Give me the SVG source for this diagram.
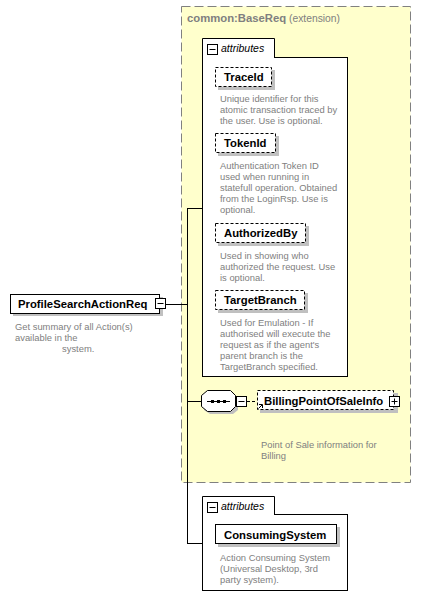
<svg xmlns="http://www.w3.org/2000/svg" width="422" height="608" viewBox="0 0 422 608">
<style>
.bold{font-family:"Liberation Sans",Arial,sans-serif;font-weight:bold;font-size:11.3px;fill:#000}
.desc{font-family:"Liberation Sans",Arial,sans-serif;font-size:9.4px;fill:#808080}
.ital{font-family:"Liberation Sans",Arial,sans-serif;font-style:italic;font-size:10.5px;fill:#000}
.shadow{fill:#c0c0c0;stroke:none}
.box{fill:#fff;stroke:#000;stroke-width:1}
.dbox{fill:#fff;stroke:#000;stroke-width:1;stroke-dasharray:3,2}
.line{stroke:#000;stroke-width:1;fill:none}
</style>
<defs>
<g id="minus"><rect x="0.5" y="0.5" width="10" height="10" fill="#fff" stroke="#000"/><line x1="2.5" y1="5.5" x2="8.5" y2="5.5" stroke="#000"/></g>
<g id="plus"><rect x="0.5" y="0.5" width="10" height="10" fill="#fff" stroke="#000"/><line x1="2.5" y1="5.5" x2="8.5" y2="5.5" stroke="#000"/><line x1="5.5" y1="2.5" x2="5.5" y2="8.5" stroke="#000"/></g>
</defs>

<g id="extension">
<rect x="181.5" y="6.5" width="229" height="476" fill="#ffffcc" stroke="#808080" stroke-dasharray="9,4"/>
<text x="187" y="22" class="bold" style="fill:#808080">common:BaseReq<tspan style="font-weight:normal;font-size:10.3px"> (extension)</tspan></text>
</g>

<g id="connectors">
<line x1="166" y1="304.5" x2="187" y2="304.5" class="line"/>
<line x1="187.5" y1="208" x2="187.5" y2="543.5" class="line"/>
<line x1="187" y1="208.5" x2="202" y2="208.5" class="line"/>
<line x1="187" y1="401.5" x2="201" y2="401.5" class="line"/>
<line x1="187" y1="543.5" x2="202" y2="543.5" class="line"/>
<line x1="247" y1="401.5" x2="257" y2="401.5" class="line" stroke-dasharray="3,2"/>
</g>

<g id="root">
<rect x="13" y="297" width="150" height="19" class="shadow"/>
<rect x="10.5" y="294.5" width="149" height="19" class="box"/>
<text x="18" y="308" class="bold">ProfileSearchActionReq</text>
<use href="#minus" x="155" y="298"/>
<text class="desc"><tspan x="15" y="330">Get summary of all Action(s)</tspan><tspan x="15" y="341">available in the</tspan><tspan x="62" y="352">system.</tspan></text>
</g>

<g id="attributes1">
<path d="M202.5 57.5 V38.5 H274.5 V57.5" class="box"/>
<rect x="202.5" y="57.5" width="145" height="319" class="box"/>
<rect x="203" y="56" width="71" height="3" fill="#fff"/>
<use href="#minus" x="207" y="44"/>
<text x="221" y="52" class="ital">attributes</text>
</g>

<g id="TraceId">
<rect x="218" y="70" width="57" height="20" class="shadow"/>
<rect x="215.5" y="67.5" width="56" height="19" class="dbox"/>
<text x="224" y="81" class="bold">TraceId</text>
<text class="desc"><tspan x="220" y="102">Unique identifier for this</tspan><tspan x="220" y="113">atomic transaction traced by</tspan><tspan x="220" y="124">the user. Use is optional.</tspan></text>
</g>

<g id="TokenId">
<rect x="218" y="136" width="61" height="20" class="shadow"/>
<rect x="215.5" y="133.5" width="60" height="19" class="dbox"/>
<text x="224" y="147" class="bold">TokenId</text>
<text class="desc"><tspan x="220" y="169">Authentication Token ID</tspan><tspan x="220" y="180">used when running in</tspan><tspan x="220" y="191">statefull operation. Obtained</tspan><tspan x="220" y="202">from the LoginRsp. Use is</tspan><tspan x="220" y="213">optional.</tspan></text>
</g>

<g id="AuthorizedBy">
<rect x="218" y="226" width="91" height="20" class="shadow"/>
<rect x="215.5" y="223.5" width="90" height="19" class="dbox"/>
<text x="224" y="237" class="bold">AuthorizedBy</text>
<text class="desc"><tspan x="220" y="259">Used in showing who</tspan><tspan x="220" y="270">authorized the request. Use</tspan><tspan x="220" y="281">is optional.</tspan></text>
</g>

<g id="TargetBranch">
<rect x="218" y="293" width="90" height="20" class="shadow"/>
<rect x="215.5" y="290.5" width="89" height="19" class="dbox"/>
<text x="224" y="304" class="bold">TargetBranch</text>
<text class="desc"><tspan x="220" y="326">Used for Emulation - If</tspan><tspan x="220" y="337">authorised will execute the</tspan><tspan x="220" y="348">request as if the agent's</tspan><tspan x="220" y="359">parent branch is the</tspan><tspan x="220" y="370">TargetBranch specified.</tspan></text>
</g>

<g id="sequence">
<polygon points="210,393 233,393 238,398 238,410 233,414 210,414 204,410 204,398" class="shadow"/>
<polygon points="207.5,390.5 230.5,390.5 235.5,395.5 235.5,406.5 230.5,411.5 207.5,411.5 201.5,406.5 201.5,395.5" class="box"/>
<line x1="207" y1="401.5" x2="230" y2="401.5" class="line"/>
<rect x="211" y="400" width="3" height="3" fill="#000"/>
<rect x="217" y="400" width="3" height="3" fill="#000"/>
<rect x="223" y="400" width="3" height="3" fill="#000"/>
<use href="#minus" x="236" y="396"/>
</g>

<g id="BillingPointOfSaleInfo">
<rect x="260" y="393" width="138" height="20" class="shadow"/>
<rect x="257.5" y="390.5" width="136" height="19" class="dbox"/>
<text x="264" y="405" class="bold">BillingPointOfSaleInfo</text>
<path d="M258.5 408.5 L262 405 M259 404.5 H262.5 V408" stroke="#000" fill="none"/>
<use href="#plus" x="389" y="396"/>
<text class="desc"><tspan x="261" y="448">Point of Sale information for</tspan><tspan x="261" y="459">Billing</tspan></text>
</g>

<g id="attributes2">
<path d="M202.5 514.5 V496.5 H274.5 V514.5" class="box"/>
<rect x="202.5" y="514.5" width="145" height="76" class="box"/>
<rect x="203" y="513" width="71" height="3" fill="#fff"/>
<use href="#minus" x="207" y="502"/>
<text x="221" y="510" class="ital">attributes</text>
</g>

<g id="ConsumingSystem">
<rect x="218" y="527" width="122" height="20" class="shadow"/>
<rect x="215.5" y="524.5" width="121" height="19" class="box"/>
<text x="224" y="539" class="bold">ConsumingSystem</text>
<text class="desc"><tspan x="220" y="561">Action Consuming System</tspan><tspan x="220" y="572">(Universal Desktop, 3rd</tspan><tspan x="220" y="583">party system).</tspan></text>
</g>
</svg>
